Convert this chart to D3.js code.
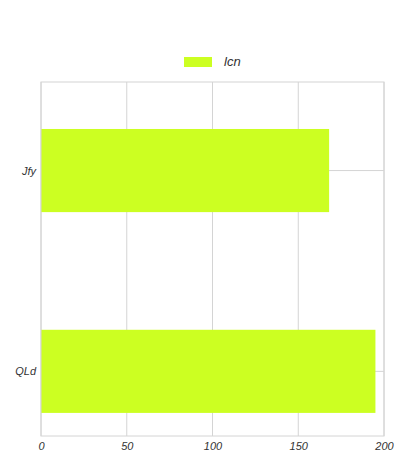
<!DOCTYPE html>
<html><head><meta charset="utf-8">
<script src="https://cdn.jsdelivr.net/npm/d3@7"></script>
<style>body{margin:0;background:#fff}</style>
</head><body>
<svg id="c" width="406" height="464"></svg>
<script>
const categories = ["QLd", "Jfy"];
const seriesName = "lcn";
const values = [195, 168];
const xTicks = [0, 50, 100, 150, 200];

const svg = d3.select("#c");
const L = 41, R = 384, T = 82, B = 436;
const font = "'Liberation Sans', Arial, sans-serif";
const color = "#ccff22";
const grid = "#d4d4d4";

const x = d3.scaleLinear().domain([0, 200]).range([L, R]);
const y = d3.scaleLinear().domain([-0.322, 1.441]).range([B, T]);
const barH = 0.414;

// grid
svg.append("g").selectAll("line.vx").data(xTicks).join("line")
  .attr("x1", d => x(d)).attr("x2", d => x(d)).attr("y1", T).attr("y2", B)
  .attr("stroke", grid).attr("stroke-width", 1);
svg.append("g").selectAll("line.hy").data(categories).join("line")
  .attr("x1", L).attr("x2", R).attr("y1", (d, i) => y(i)).attr("y2", (d, i) => y(i))
  .attr("stroke", grid).attr("stroke-width", 1);

// bars
svg.append("g").selectAll("rect").data(values).join("rect")
  .attr("x", x(0)).attr("width", d => x(d) - x(0))
  .attr("y", (d, i) => y(i + barH / 2)).attr("height", (d, i) => y(i - barH / 2) - y(i + barH / 2))
  .attr("fill", color);

// frame
svg.append("rect").attr("x", L).attr("y", T).attr("width", R - L).attr("height", B - T)
  .attr("fill", "none").attr("stroke", grid).attr("stroke-width", 1);

// x axis labels
const xa = d3.axisBottom(x).tickValues(xTicks).tickSize(0).tickPadding(6);
const gx = svg.append("g").attr("transform", `translate(0,${B})`).call(xa);
gx.select(".domain").remove();
gx.selectAll("text").attr("font-family", font).attr("font-style", "italic")
  .attr("font-size", 11).attr("fill", "#333");

// y axis labels
const ya = d3.axisLeft(y).tickValues([0, 1]).tickFormat(i => categories[i]).tickSize(0).tickPadding(5);
const gy = svg.append("g").attr("transform", `translate(${L},0)`).call(ya);
gy.select(".domain").remove();
gy.selectAll("text").attr("font-family", font).attr("font-style", "italic")
  .attr("font-size", 11).attr("fill", "#333");

// legend
svg.append("rect").attr("x", 184).attr("y", 57).attr("width", 28).attr("height", 10).attr("fill", color);
svg.append("text").attr("x", 224).attr("y", 66).text(seriesName)
  .attr("font-family", font).attr("font-style", "italic").attr("font-size", 13).attr("fill", "#333");
</script>
</body></html>
